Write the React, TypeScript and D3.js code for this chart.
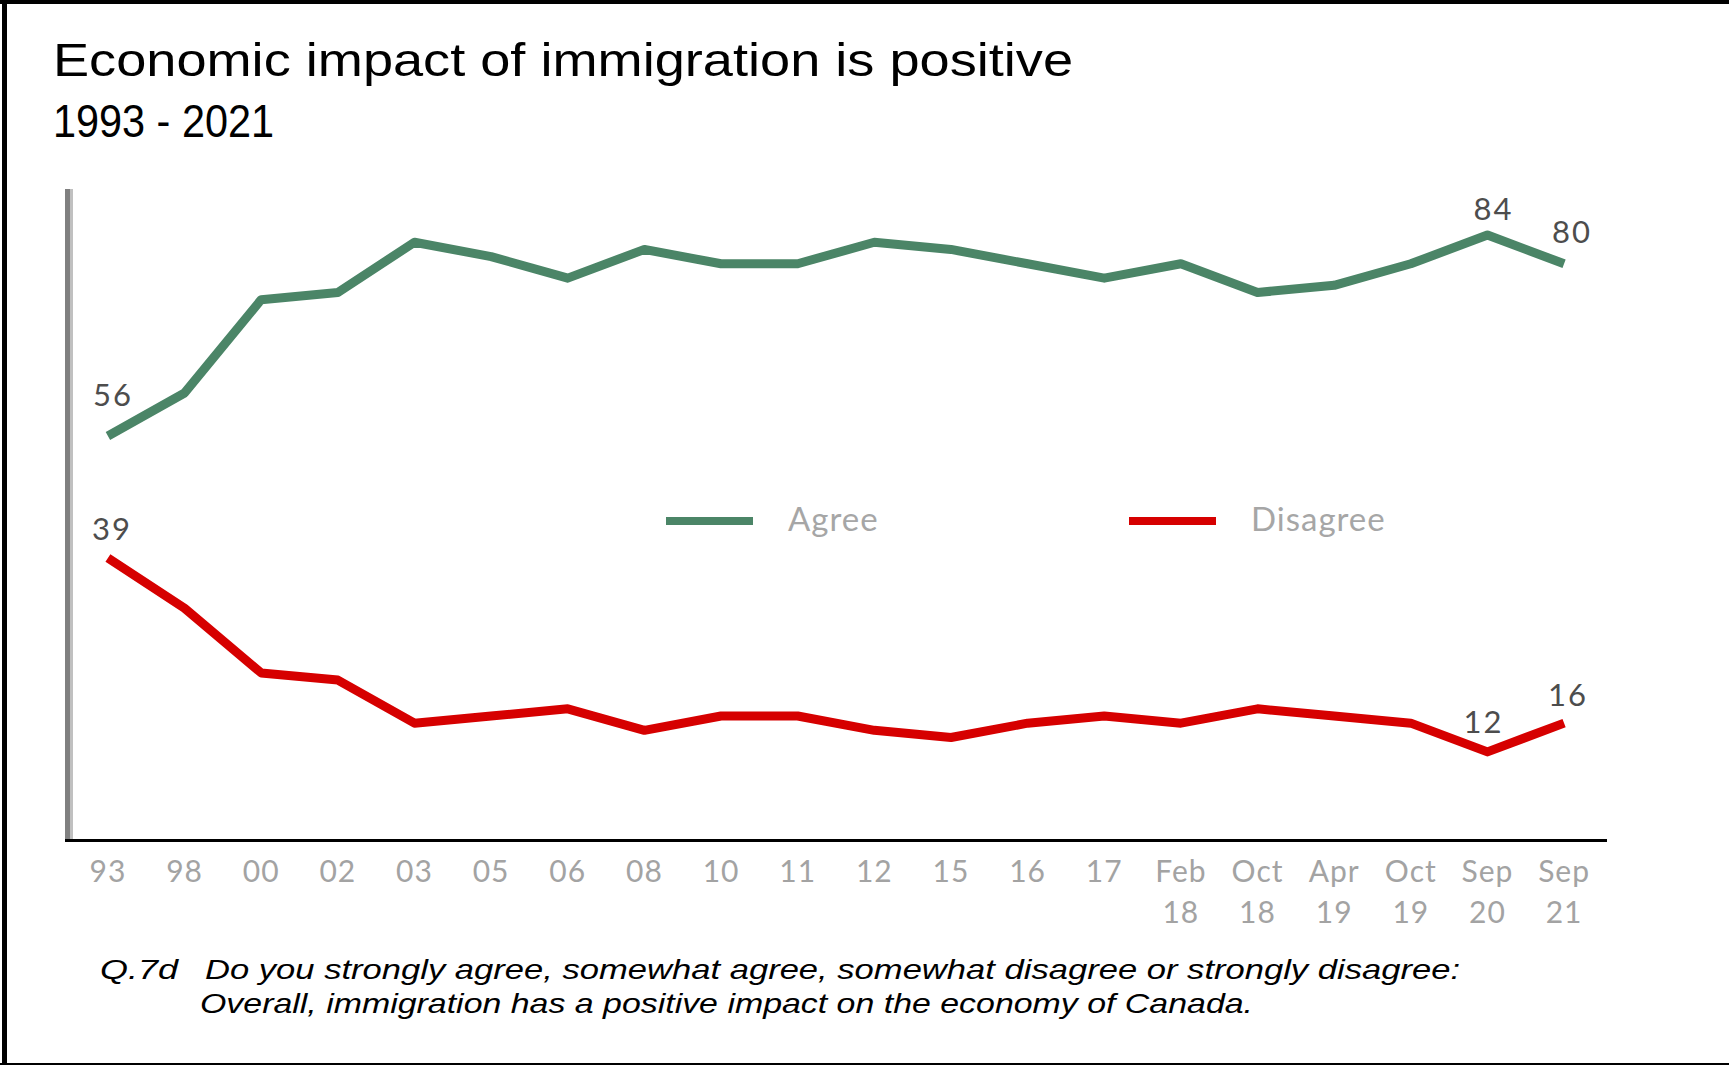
import React from "react";
import * as d3 from "d3";

const categories = ["93","98","00","02","03","05","06","08","10","11","12","15","16","17","Feb 18","Oct 18","Apr 19","Oct 19","Sep 20","Sep 21"];
const tickLine1 = ["93","98","00","02","03","05","06","08","10","11","12","15","16","17","Feb","Oct","Apr","Oct","Sep","Sep"];
const tickLine2 = ["","","","","","","","","","","","","","","18","18","19","19","20","21"];
const agree = [56,62,75,76,83,81,78,82,80,80,83,82,80,78,80,76,77,80,84,80];
const disagree = [39,32,23,22,16,17,18,15,17,17,15,14,16,17,16,18,17,16,12,16];
const seriesNames = ["Agree","Disagree"];
const seriesColors = ["#4b8567","#d60000"];
const labeled = [
  { s: 0, i: 0, dx: 5, dy: -30 },
  { s: 0, i: 18, dx: 6, dy: -15 },
  { s: 0, i: 19, dx: 8, dy: -21 },
  { s: 1, i: 0, dx: 4, dy: -18 },
  { s: 1, i: 18, dx: -4, dy: -19 },
  { s: 1, i: 19, dx: 4, dy: -17 },
];
const titleText = "Economic impact of immigration is positive";
const subtitleText = "1993  - 2021";
const noteLabel = "Q.7d";
const noteLine1 = "Do you strongly agree,  somewhat agree,  somewhat disagree or strongly  disagree:";
const noteLine2 = "Overall,  immigration  has a positive impact on the economy of Canada.";

export default function App() {
  const W = 1729, H = 1065;
  const x = d3.scalePoint<string>().domain(categories).range([65, 1607]).padding(0.56);
  const y = d3.scaleLinear().domain([0, 90]).range([838, 192]);
  const series = [agree, disagree];
  const line = d3.line<number>()
    .x((_, i) => x(categories[i]) as number)
    .y((d) => y(d));
  const labelFont = "Lato, 'Open Sans', sans-serif";
  return (
    <svg width={W} height={H} style={{ position: "absolute", left: 0, top: 0, background: "#fff" }}>
      <rect x={0} y={0} width={W} height={H} fill="#fff" />
      {/* frame */}
      <rect x={0} y={0} width={W} height={4} fill="#000" />
      <rect x={2} y={0} width={5} height={H} fill="#000" />
      <rect x={0} y={1063} width={W} height={2} fill="#000" />

      {/* title */}
      <text x={53} y={76} fontFamily="'Liberation Sans', Arial, sans-serif" fontSize={47} fill="#000"
        textLength={1020} lengthAdjust="spacingAndGlyphs">{titleText}</text>
      <text x={53} y={137} fontFamily="'Liberation Sans', Arial, sans-serif" fontSize={46} fill="#000"
        textLength={221} lengthAdjust="spacingAndGlyphs">{subtitleText}</text>

      {/* axes */}
      <rect x={65} y={189} width={5} height={653} fill="#808080" />
      <rect x={70} y={189} width={3} height={653} fill="#c0c0c0" />
      <rect x={65} y={839} width={1542} height={3} fill="#000" />

      {/* tick labels */}
      {categories.map((c, i) => (
        <g key={c}>
          <text x={x(c)} y={882} textAnchor="middle" fontFamily={labelFont} fontSize={30}
            fill="#a3a3a3" letterSpacing={1}>{tickLine1[i]}</text>
          {tickLine2[i] && (
            <text x={x(c)} y={923} textAnchor="middle" fontFamily={labelFont} fontSize={30}
              fill="#a3a3a3" letterSpacing={1}>{tickLine2[i]}</text>
          )}
        </g>
      ))}

      {/* lines */}
      {series.map((s, k) => (
        <path key={k} d={line(s) || ""} fill="none" stroke={seriesColors[k]} strokeWidth={9}
          strokeLinejoin="round" strokeLinecap="butt" />
      ))}

      {/* data labels */}
      {labeled.map((l, k) => {
        const v = series[l.s][l.i];
        return (
          <text key={k} x={(x(categories[l.i]) as number) + l.dx} y={y(v) + l.dy} textAnchor="middle"
            fontFamily={labelFont} fontSize={31} fill="#4d4d4d" letterSpacing={2}>{v}</text>
        );
      })}

      {/* legend */}
      {seriesNames.map((n, k) => {
        const lx = [666, 1129][k];
        return (
          <g key={n}>
            <line x1={lx} x2={lx + 87} y1={521} y2={521} stroke={seriesColors[k]} strokeWidth={8} />
            <text x={lx + 122} y={531} fontFamily={labelFont} fontSize={33} fill="#a6a6a6"
              letterSpacing={1}>{n}</text>
          </g>
        );
      })}

      {/* footnote */}
      <g fontFamily="'Liberation Sans', Arial, sans-serif" fontStyle="italic" fontSize={28} fill="#000">
        <text x={100} y={979} textLength={78} lengthAdjust="spacingAndGlyphs">{noteLabel}</text>
        <text x={205} y={979} textLength={1255} lengthAdjust="spacingAndGlyphs">{noteLine1}</text>
        <text x={200} y={1013} textLength={1053} lengthAdjust="spacingAndGlyphs">{noteLine2}</text>
      </g>
    </svg>
  );
}
